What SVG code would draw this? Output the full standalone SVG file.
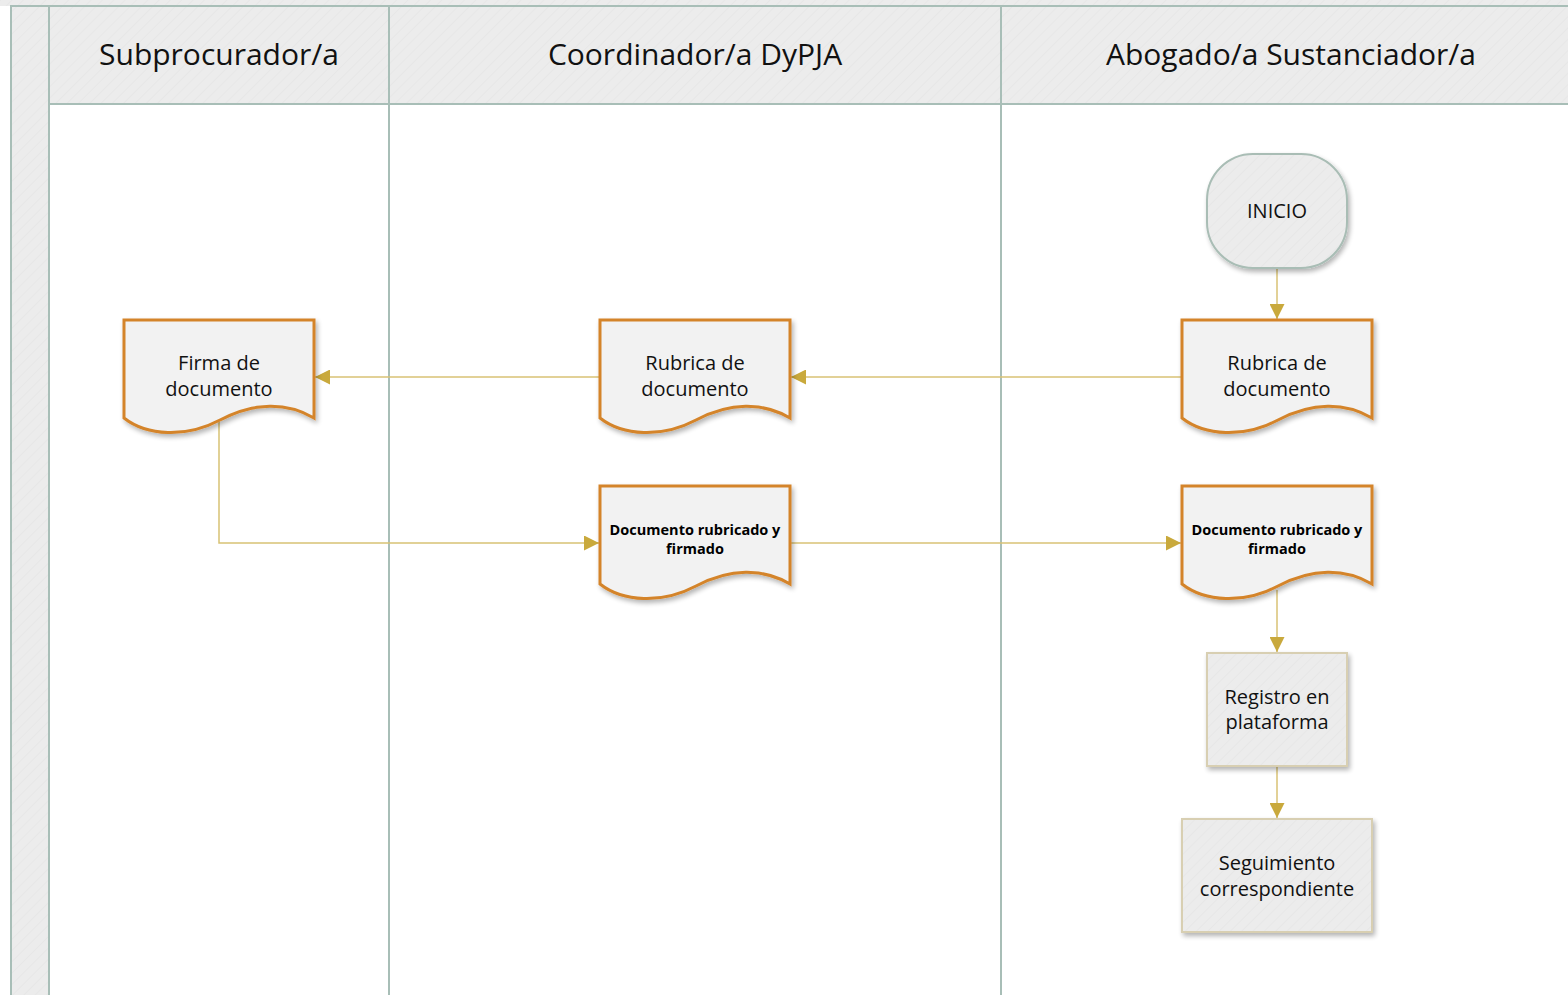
<svg xmlns="http://www.w3.org/2000/svg" width="1568" height="995" viewBox="0 0 1568 995">
<defs>
<pattern id="hatch" width="8" height="8" patternUnits="userSpaceOnUse" patternTransform="rotate(45)">
<rect width="8" height="8" fill="#ececec"/>
<line x1="0" y1="0" x2="0" y2="8" stroke="#e2e2e2" stroke-width="1"/>
</pattern>
<filter id="sh" x="-10%" y="-10%" width="125%" height="130%">
<feGaussianBlur in="SourceAlpha" stdDeviation="2.5"/>
<feOffset dx="2" dy="3" result="b"/>
<feComponentTransfer><feFuncA type="linear" slope="0.3"/></feComponentTransfer>
<feMerge><feMergeNode/><feMergeNode in="SourceGraphic"/></feMerge>
</filter>
<marker id="arr" viewBox="0 0 10 10" refX="10" refY="5" markerWidth="15" markerHeight="15" markerUnits="userSpaceOnUse" orient="auto">
<path d="M0,0 L10,5 L0,10 Z" fill="#c9a93c"/>
</marker>
<style>
.lane{fill:none;stroke:#a8beb7;stroke-width:2}
.hdr{fill:url(#hatch);stroke:#a8beb7;stroke-width:2}
.ht{font-family:"Segoe UI","Open Sans","Noto Sans",sans-serif;font-size:30px;fill:#111;text-anchor:middle}
.doc{fill:#f2f2f2;stroke:#d4842a;stroke-width:3;filter:url(#sh)}
.box{fill:url(#hatch);stroke:#d8cfb2;stroke-width:2;filter:url(#sh)}
.term{fill:url(#hatch);stroke:#a9bdb5;stroke-width:2;filter:url(#sh)}
.t{font-family:"Segoe UI","Open Sans","Noto Sans",sans-serif;font-size:20px;fill:#111;text-anchor:middle}
.tb{font-family:"Segoe UI","Open Sans","Noto Sans",sans-serif;font-size:14.5px;font-weight:bold;fill:#000;text-anchor:middle}
.c{fill:none;stroke:#d8c274;stroke-width:1.5;marker-end:url(#arr)}
</style>
</defs>
<rect x="0" y="0" width="1568" height="995" fill="#ffffff"/>
<g id="pool">
<rect x="0" y="0" width="1568" height="6" fill="url(#hatch)"/>
<rect x="11" y="6" width="38" height="995" class="hdr"/>
<line x1="11" y1="6" x2="1568" y2="6" class="lane"/>
</g>
<g id="lane-subprocurador">
<rect x="49" y="6" width="340" height="98" class="hdr"/>
<line x1="49" y1="104" x2="49" y2="995" class="lane"/>
<text x="219" y="65" class="ht">Subprocurador/a</text>
</g>
<g id="lane-coordinador">
<rect x="389" y="6" width="612" height="98" class="hdr"/>
<line x1="389" y1="104" x2="389" y2="995" class="lane"/>
<text x="695" y="65" class="ht">Coordinador/a DyPJA</text>
</g>
<g id="lane-abogado">
<rect x="1001" y="6" width="580" height="98" class="hdr"/>
<line x1="1001" y1="104" x2="1001" y2="995" class="lane"/>
<text x="1291" y="65" class="ht">Abogado/a Sustanciador/a</text>
</g>
<g id="connectors">
<line x1="1277" y1="268" x2="1277" y2="319" class="c"/>
<line x1="1182" y1="377" x2="791" y2="377" class="c"/>
<line x1="600" y1="377" x2="315" y2="377" class="c"/>
<polyline points="219,422 219,543 599,543" class="c"/>
<line x1="790" y1="543" x2="1181" y2="543" class="c"/>
<line x1="1277" y1="590" x2="1277" y2="652" class="c"/>
<line x1="1277" y1="766" x2="1277" y2="818" class="c"/>
</g>
<g id="inicio">
<rect x="1207" y="154" width="140" height="114" rx="46" ry="46" class="term"/>
<text x="1277" y="218" class="t">INICIO</text>
</g>
<g id="rubrica-abogado">
<path d="M1182,320 H1372 V418 C1345,402 1312,402 1278,420 C1244,438 1205,436 1182,418 Z" class="doc"/>
<text x="1277" y="370" class="t">Rubrica de</text>
<text x="1277" y="396" class="t">documento</text>
</g>
<g id="rubrica-coordinador">
<path d="M600,320 H790 V418 C763,402 730,402 696,420 C662,438 623,436 600,418 Z" class="doc"/>
<text x="695" y="370" class="t">Rubrica de</text>
<text x="695" y="396" class="t">documento</text>
</g>
<g id="firma">
<path d="M124,320 H314 V418 C287,402 254,402 220,420 C186,438 147,436 124,418 Z" class="doc"/>
<text x="219" y="370" class="t">Firma de</text>
<text x="219" y="396" class="t">documento</text>
</g>
<g id="doc-coordinador">
<path d="M600,486 H790 V584 C763,568 730,568 696,586 C662,604 623,602 600,584 Z" class="doc"/>
<text x="695" y="535" class="tb">Documento rubricado y</text>
<text x="695" y="554" class="tb">firmado</text>
</g>
<g id="doc-abogado">
<path d="M1182,486 H1372 V584 C1345,568 1312,568 1278,586 C1244,604 1205,602 1182,584 Z" class="doc"/>
<text x="1277" y="535" class="tb">Documento rubricado y</text>
<text x="1277" y="554" class="tb">firmado</text>
</g>
<g id="registro">
<rect x="1207" y="653" width="140" height="113" class="box"/>
<text x="1277" y="704" class="t">Registro en</text>
<text x="1277" y="729" class="t">plataforma</text>
</g>
<g id="seguimiento">
<rect x="1182" y="819" width="190" height="113" class="box"/>
<text x="1277" y="870" class="t">Seguimiento</text>
<text x="1277" y="896" class="t">correspondiente</text>
</g>
</svg>
